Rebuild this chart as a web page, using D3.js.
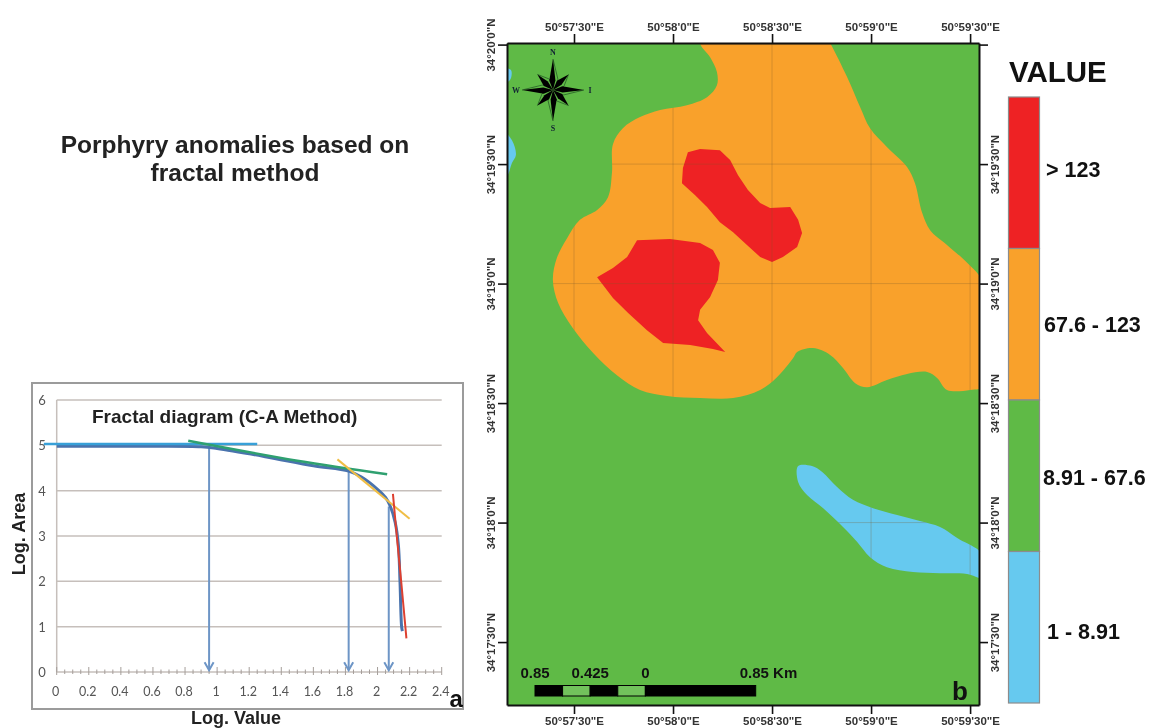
<!DOCTYPE html>
<html>
<head>
<meta charset="utf-8">
<style>
  html, body { margin: 0; padding: 0; background: #fff; }
  svg { display: block; filter: blur(0.45px); font-family: "Liberation Sans", Arial, sans-serif; }
</style>
<script src="https://cdn.jsdelivr.net/npm/d3@7"></script>
</head>
<body>
<div id="chart"></div>
<script>
// ---- Panel a: log-log diagram values ----
const xTicks = [0, 0.2, 0.4, 0.6, 0.8, 1, 1.2, 1.4, 1.6, 1.8, 2, 2.2, 2.4];
const yTicks = [0, 1, 2, 3, 4, 5, 6];
const curve = [[0, 4.98], [0.5, 4.98], [0.9, 4.97], [1.0, 4.93], [1.3, 4.75], [1.6, 4.55], [1.82, 4.43],
  [1.9, 4.3], [2.0, 4.03], [2.05, 3.85], [2.08, 3.65], [2.11, 3.3], [2.13, 2.8], [2.14, 2.0], [2.15, 1.0], [2.155, 0.9]];
const fitBlue = [[-0.08, 5.03], [1.25, 5.03]];
const fitGreen = [[0.82, 5.1], [1.5, 4.66], [2.06, 4.36]];
const fitYellow = [[1.75, 4.69], [2.2, 3.38]];
const fitRed = [[2.096, 3.93], [2.12, 3.0], [2.15, 1.9], [2.18, 0.74]];
const thresholds = [[0.95, 4.97], [1.82, 4.43], [2.07, 3.65]];

// ---- Panel b: map outlines, arc seconds past 50°57'E and past 34°17'N ----
const lonTicks = [30, 60, 90, 120, 150];
const lonLabels = ['50°57\'30"E', '50°58\'0"E', '50°58\'30"E', '50°59\'0"E', '50°59\'30"E'];
const latTicks = [30, 60, 90, 120, 150, 180];
const latLabels = ['34°17\'30"N', '34°18\'0"N', '34°18\'30"N', '34°19\'0"N', '34°19\'30"N', '34°20\'0"N'];
const orangeZone = [[68.2,180.4],[71.2,176.9],[73.3,173.1],[73.3,169.8],[70.3,166.8],[64.2,164.8],[56.1,163.6],[50,161.8],
  [44.8,159],[41.8,155],[41.5,147.8],[40.3,141.7],[37,138.5],[31.8,136],[27.9,131.4],[24.8,126.4],[23.6,120.9],
  [25.2,115.1],[29.4,109.1],[35.8,102.6],[43,97],[50,93.3],[58.2,91.8],[68.2,91.3],[78.2,91.3],[86.4,93.3],[91.5,96.5],
  [96.4,101.3],[97.6,102.8],[102.4,103.8],[107.6,102.1],[111.5,98.8],[115.2,95],[118.8,94],[124.8,95.8],[130.9,97.3],[137,97.8],
  [140,96.3],[143,93.3],[150,93.3],[154,94.3],[154,120],[149.1,125.2],[143,129.7],[137.9,133.4],[135.5,137.7],[133.3,145.2],
  [130.9,149.3],[124.8,154.3],[119.7,159],[116.7,164.3],[112.7,171.9],[107.6,180.4],[105,184],[70,184]];
const redZoneUpper = [[64.5,153],[68.2,153.8],[74.2,153.5],[77.3,151],[79.7,147.2],[82.7,143.5],[86.4,140.2],[89.4,139],
  [95.5,139.2],[97.9,136],[99.1,132.7],[97.6,129.2],[93.3,126.7],[90,125.4],[86.4,126.7],[82.4,129.7],[78.2,132.9],[74.2,135.4],
  [70.3,139.2],[66.7,142.2],[62.7,145.2],[63,149]];
const redZoneLower = [[49.1,130.9],[59.1,131.2],[68.2,130.2],[72.1,128.4],[74.2,125.2],[73.6,120.9],[71.2,116.6],[68.2,113.4],
  [67.6,110.8],[70.3,107.6],[75.8,102.8],[72.1,103.6],[65.2,104.6],[57,105.1],[52.1,108.3],[46.4,112.6],[41.8,116.4],[37,121.6],
  [41.8,123.9],[46.1,126.7]];
const blueZoneRight = [[97.9,74.2],[102.1,74.2],[105.2,72.7],[109.7,68.9],[114.5,65.7],[120.6,63.6],[127.9,61.9],[134.8,60.4],
  [140.9,58.9],[146.1,56.1],[154,51.8],[154,46.1],[149.1,47.1],[140.9,47.3],[132.7,47.6],[124.8,48.8],[119.7,51.3],[115.8,55.1],
  [111.5,58.9],[105.5,63.6],[100.6,66.9],[97.9,70.2]];
const blueZoneTop = [[8,174.1],[10.9,173.6],[10.6,171.1],[8,170.3]];
const blueZoneMid = [[8,158.5],[11.2,156],[12.4,152.3],[11.2,150.3],[10,147.3],[8,144.2]];

// ---- Legend and scale bar ----
const classes = ['> 123', '67.6 - 123', '8.91 - 67.6', '1 - 8.91'];
const classColors = ['#ee2224', '#f9a12b', '#5fba46', '#66c9ef'];
const barBreaks = [-0.85, -0.6375, -0.425, -0.2125, 0, 0.85];
const barLabels = [[-0.85, '0.85'], [-0.425, '0.425'], [0, '0']];
const compassRays = [[0, 31], [45, 22], [90, 31], [135, 22], [180, 31], [225, 22], [270, 31], [315, 22]];
const compassNames = [[0, 38, 'N'], [90, 37, 'I'], [180, 38, 'S'], [270, 37, 'W']];

const svg = d3.select('#chart').append('svg')
  .attr('width', 1150)
  .attr('height', 728);

// Heading on the left
svg.append('g').selectAll('text')
  .data(['Porphyry anomalies based on', 'fractal method'])
  .enter().append('text')
  .attr('x', 235)
  .attr('y', (d, i) => 153 + i * 28)
  .attr('text-anchor', 'middle')
  .attr('font-size', 24.5)
  .attr('font-weight', 'bold')
  .attr('fill', '#222')
  .text(d => d);

// ---- Panel a ----
const x = d3.scaleLinear().domain([0, 2.4]).range([56.7, 441.7]);
const y = d3.scaleLinear().domain([0, 6]).range([672, 400]);

svg.append('rect')
  .attr('x', 32)
  .attr('y', 383)
  .attr('width', 431)
  .attr('height', 326)
  .attr('fill', '#fff')
  .attr('stroke', '#9b9b9b')
  .attr('stroke-width', 2);

svg.append('g').selectAll('line')
  .data(yTicks)
  .enter().append('line')
  .attr('x1', x(0))
  .attr('x2', x(2.4))
  .attr('y1', d => y(d))
  .attr('y2', d => y(d))
  .attr('stroke', '#c6bfbb')
  .attr('stroke-width', 1.5);

svg.append('line')
  .attr('x1', x(0))
  .attr('x2', x(0))
  .attr('y1', y(6))
  .attr('y2', y(0))
  .attr('stroke', '#c6bfbb')
  .attr('stroke-width', 1.5);

// Minor ticks every 0.05, majors every 0.2
svg.append('g').selectAll('line')
  .data(d3.range(0, 49).map(i => i * 0.05))
  .enter().append('line')
  .attr('x1', d => x(d))
  .attr('x2', d => x(d))
  .attr('y1', (d, i) => y(0) - (i % 4 === 0 ? 5 : 2.5))
  .attr('y2', (d, i) => y(0) + (i % 4 === 0 ? 3 : 2))
  .attr('stroke', '#a59e9a')
  .attr('stroke-width', 1);

svg.append('g').selectAll('text')
  .data(xTicks)
  .enter().append('text')
  .attr('x', d => x(d) - 1)
  .attr('y', 696)
  .attr('text-anchor', 'middle')
  .attr('font-family', 'Lato')
  .attr('font-size', 12.5)
  .attr('fill', '#555')
  .text(d => d);

svg.append('g').selectAll('text')
  .data(yTicks)
  .enter().append('text')
  .attr('x', 42)
  .attr('y', d => y(d) + 5)
  .attr('text-anchor', 'middle')
  .attr('font-family', 'Lato')
  .attr('font-size', 13)
  .attr('fill', '#555')
  .text(d => d);

svg.append('text')
  .attr('x', 92)
  .attr('y', 423)
  .attr('font-size', 19)
  .attr('font-weight', 'bold')
  .attr('fill', '#222')
  .text('Fractal diagram (C-A Method)');

svg.append('text')
  .attr('transform', 'translate(25,534) rotate(-90)')
  .attr('text-anchor', 'middle')
  .attr('font-size', 18)
  .attr('font-weight', 'bold')
  .attr('fill', '#222')
  .text('Log. Area');

svg.append('text')
  .attr('x', 236)
  .attr('y', 724)
  .attr('text-anchor', 'middle')
  .attr('font-size', 18)
  .attr('font-weight', 'bold')
  .attr('fill', '#222')
  .text('Log. Value');

// Threshold arrows
svg.append('defs').append('marker')
  .attr('id', 'chevron')
  .attr('viewBox', '-10 -6 12 12')
  .attr('markerUnits', 'userSpaceOnUse')
  .attr('markerWidth', 12)
  .attr('markerHeight', 12)
  .attr('orient', 'auto')
  .append('path')
  .attr('d', 'M-8,-4.5L0,0L-8,4.5')
  .attr('fill', 'none')
  .attr('stroke', '#6d95c6')
  .attr('stroke-width', 2);

svg.append('g').selectAll('line')
  .data(thresholds)
  .enter().append('line')
  .attr('x1', d => x(d[0]))
  .attr('x2', d => x(d[0]))
  .attr('y1', d => y(d[1]))
  .attr('y2', y(0.04))
  .attr('stroke', '#6d95c6')
  .attr('stroke-width', 2)
  .attr('marker-end', 'url(#chevron)');

const line = d3.line().x(d => x(d[0])).y(d => y(d[1])).curve(d3.curveCatmullRom);
const curveLines = [
  [curve, '#4a73ad', 3],
  [fitBlue, '#38a0d8', 2.5],
  [fitGreen, '#2fa070', 2.5],
  [fitYellow, '#f0be45', 2],
  [fitRed, '#dd4030', 2]
];
svg.append('g').selectAll('path')
  .data(curveLines)
  .enter().append('path')
  .attr('d', d => line(d[0]))
  .attr('fill', 'none')
  .attr('stroke', d => d[1])
  .attr('stroke-width', d => d[2]);

svg.append('text')
  .attr('x', 449.5)
  .attr('y', 707)
  .attr('font-size', 24)
  .attr('font-weight', 'bold')
  .attr('fill', '#111')
  .text('a');

// ---- Panel b ----
const lon = d3.scaleLinear().domain([9.7, 152.7]).range([507, 979]);
const lat = d3.scaleLinear().domain([14.2, 180.4]).range([705, 43]);
const zone = d3.line()
  .x(d => lon(d[0]))
  .y(d => lat(d[1]))
  .curve(d3.curveCatmullRomClosed);
// Red zones keep their sharp tips
const sharpZone = d3.line()
  .x(d => lon(d[0]))
  .y(d => lat(d[1]))
  .curve(d3.curveLinearClosed);

const defs = svg.select('defs');
defs.append('clipPath').attr('id', 'map-clip')
  .append('rect')
  .attr('x', 507)
  .attr('y', 43)
  .attr('width', 472)
  .attr('height', 662);
const gridClip = defs.append('clipPath').attr('id', 'grid-clip');
[orangeZone, blueZoneRight].forEach(z => gridClip.append('path').attr('d', zone(z)));

const map = svg.append('g').attr('clip-path', 'url(#map-clip)');
map.append('rect')
  .attr('x', 507)
  .attr('y', 43)
  .attr('width', 472)
  .attr('height', 662)
  .attr('fill', classColors[2]);

const zones = [
  [zone(orangeZone), classColors[1]],
  [zone(blueZoneRight), classColors[3]],
  [zone(blueZoneTop), classColors[3]],
  [zone(blueZoneMid), classColors[3]],
  [sharpZone(redZoneUpper), classColors[0]],
  [sharpZone(redZoneLower), classColors[0]]
];
map.selectAll('path.zone')
  .data(zones)
  .enter().append('path')
  .attr('class', 'zone')
  .attr('d', d => d[0])
  .attr('fill', d => d[1]);

// Graticule only shows on the orange and blue zones
const grid = map.append('g').attr('clip-path', 'url(#grid-clip)');
grid.selectAll('line.v')
  .data(lonTicks)
  .enter().append('line')
  .attr('class', 'v')
  .attr('x1', d => lon(d))
  .attr('x2', d => lon(d))
  .attr('y1', 43)
  .attr('y2', 705)
  .attr('stroke', '#7a5a2a')
  .attr('stroke-opacity', 0.28);
grid.selectAll('line.h')
  .data(latTicks)
  .enter().append('line')
  .attr('class', 'h')
  .attr('x1', 507)
  .attr('x2', 979)
  .attr('y1', d => lat(d))
  .attr('y2', d => lat(d))
  .attr('stroke', '#7a5a2a')
  .attr('stroke-opacity', 0.28);

// Frame, ticks and labels on all four sides
function styleAxis(g) {
  g.selectAll('path').attr('stroke', '#111').attr('stroke-width', 2);
  g.selectAll('line').attr('stroke', '#111').attr('stroke-width', 1.6);
  g.selectAll('text')
    .attr('font-family', '"Liberation Sans", Arial, sans-serif')
    .attr('font-size', 11.5)
    .attr('font-weight', 'bold')
    .attr('fill', '#333');
}

const lonFormat = (d, i) => lonLabels[i];
const latFormat = (d, i) => latLabels[i];

svg.append('g')
  .attr('transform', 'translate(0,43)')
  .call(d3.axisTop(lon).tickValues(lonTicks).tickFormat(lonFormat).tickSize(9).tickSizeOuter(0))
  .call(styleAxis);
svg.append('g')
  .attr('transform', 'translate(0,705)')
  .call(d3.axisBottom(lon).tickValues(lonTicks).tickFormat(lonFormat).tickSize(9).tickSizeOuter(0))
  .call(styleAxis);
const leftAxis = svg.append('g')
  .attr('transform', 'translate(507,0)')
  .call(d3.axisLeft(lat).tickValues(latTicks).tickFormat(latFormat).tickSize(9).tickSizeOuter(0))
  .call(styleAxis);
leftAxis.selectAll('text')
  .attr('transform', 'rotate(-90)')
  .attr('text-anchor', 'middle')
  .attr('x', 0)
  .attr('y', -12)
  .attr('dy', 0);
const rightAxis = svg.append('g')
  .attr('transform', 'translate(979,0)')
  .call(d3.axisRight(lat).tickValues(latTicks).tickFormat(latFormat).tickSize(9).tickSizeOuter(0))
  .call(styleAxis);
rightAxis.selectAll('text')
  .attr('transform', 'rotate(-90)')
  .attr('text-anchor', 'middle')
  .attr('x', 0)
  .attr('y', 20)
  .attr('dy', 0)
  .filter(d => d === 180)
  .remove();

// Compass rose
const compass = svg.append('g').attr('transform', 'translate(553,90)');
const polar = (deg, r) => [r * Math.sin(deg * Math.PI / 180), -r * Math.cos(deg * Math.PI / 180)];
compass.selectAll('path.ghost')
  .data(compassRays)
  .enter().append('path')
  .attr('class', 'ghost')
  .attr('d', d => `M${polar(d[0], d[1])}L${polar(d[0] + 24, 12)}L${polar(d[0] + 45, 7)}`)
  .attr('fill', 'none')
  .attr('stroke', '#16401e')
  .attr('stroke-width', 0.6);
compass.selectAll('path.ray')
  .data(compassRays)
  .enter().append('path')
  .attr('class', 'ray')
  .attr('d', d => `M${polar(d[0], d[1])}L${polar(d[0] - 22, 10)}L0,0L${polar(d[0] + 14, 10)}Z`)
  .attr('fill', '#000');
compass.selectAll('text')
  .data(compassNames)
  .enter().append('text')
  .attr('x', d => polar(d[0], d[1])[0])
  .attr('y', d => polar(d[0], d[1])[1] + 3)
  .attr('text-anchor', 'middle')
  .attr('font-family', '"Liberation Serif", serif')
  .attr('font-size', 8)
  .attr('font-weight', 'bold')
  .attr('fill', '#123')
  .text(d => d[2]);

// Scale bar
const km = d3.scaleLinear().domain([-0.85, 0.85]).range([535, 755.7]);
svg.append('g').selectAll('rect')
  .data(d3.pairs(barBreaks))
  .enter().append('rect')
  .attr('x', d => km(d[0]))
  .attr('y', 685.5)
  .attr('width', d => km(d[1]) - km(d[0]))
  .attr('height', 10.5)
  .attr('fill', (d, i) => i % 2 === 0 ? '#000' : '#72c25c')
  .attr('stroke', '#000')
  .attr('stroke-width', 1);
svg.append('g').selectAll('text')
  .data(barLabels)
  .enter().append('text')
  .attr('x', d => km(d[0]))
  .attr('y', 678)
  .attr('text-anchor', 'middle')
  .attr('font-size', 15)
  .attr('font-weight', 'bold')
  .attr('fill', '#111')
  .text(d => d[1]);
svg.append('text')
  .attr('x', km(0.85) - 16)
  .attr('y', 678)
  .attr('font-size', 15)
  .attr('font-weight', 'bold')
  .attr('fill', '#111')
  .text('0.85 Km');

svg.append('text')
  .attr('x', 952)
  .attr('y', 700)
  .attr('font-size', 26)
  .attr('font-weight', 'bold')
  .attr('fill', '#111')
  .text('b');

// ---- Legend ----
const band = d3.scaleBand().domain(classes).range([97, 703]);
svg.append('text')
  .attr('x', 1009)
  .attr('y', 82)
  .attr('font-size', 29.5)
  .attr('font-weight', 'bold')
  .attr('fill', '#111')
  .text('VALUE');
svg.append('g').selectAll('rect')
  .data(classes)
  .enter().append('rect')
  .attr('x', 1008.5)
  .attr('y', d => band(d))
  .attr('width', 31)
  .attr('height', band.bandwidth())
  .attr('fill', (d, i) => classColors[i])
  .attr('stroke', '#8c8c8c')
  .attr('stroke-width', 1.2);
const labelX = [1046, 1044, 1043, 1047];
const labelNudge = [-3, 0.5, 2, 4];
svg.append('g').selectAll('text')
  .data(classes)
  .enter().append('text')
  .attr('x', (d, i) => labelX[i])
  .attr('y', (d, i) => band(d) + band.bandwidth() / 2 + labelNudge[i])
  .attr('dy', '0.36em')
  .attr('font-size', 21.5)
  .attr('font-weight', 'bold')
  .attr('fill', '#111')
  .text(d => d);
</script>
</body>
</html>
